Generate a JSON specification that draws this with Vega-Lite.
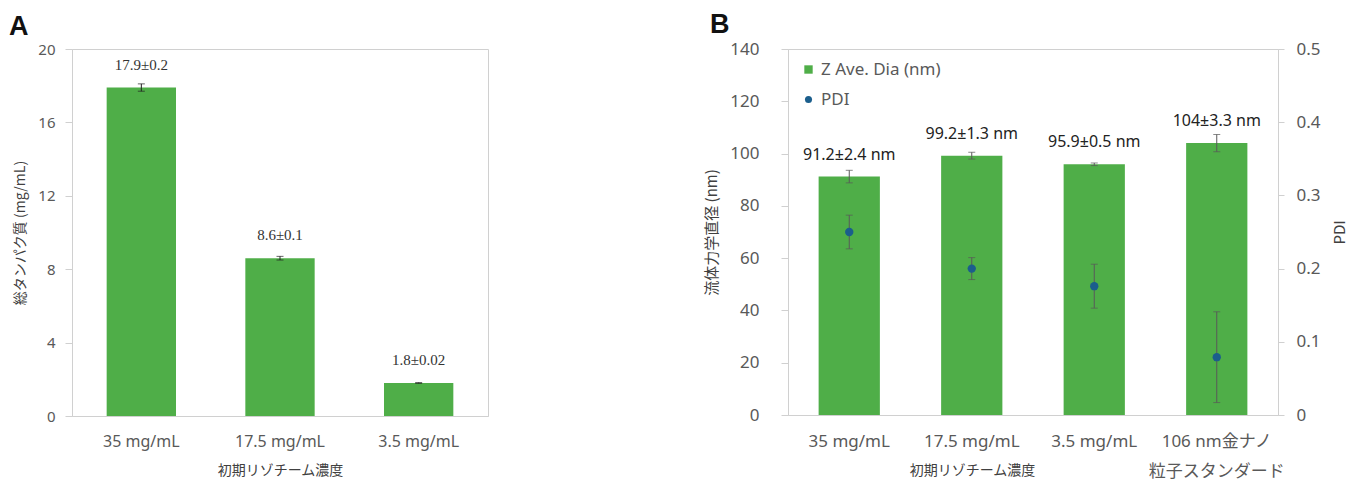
{
  "$schema": "https://vega.github.io/schema/vega-lite/v6.json",
  "padding": {"left": 8, "top": 10, "right": 0, "bottom": 0},
  "background": "white",
  "config": {
    "font": "Noto Sans, Noto Sans CJK JP",
    "view": {"stroke": "#d0d0d0", "strokeWidth": 1},
    "axis": {"grid": false, "domainColor": "#d0d0d0", "tickColor": "#d0d0d0", "labelColor": "#595959", "titleColor": "#404040", "titleFontWeight": "normal", "labelFont": "Noto Sans, Noto Sans CJK JP", "titleFont": "Noto Sans CJK JP"}
  },
  "spacing": 215,
  "resolve": {"scale": {"color": "independent"}, "legend": {"color": "independent"}},
  "hconcat": [
    {
      "width": 416,
      "height": 367,
      "title": {"text": "A", "anchor": "start", "frame": "group", "dx": -63, "fontSize": 27, "fontWeight": "bold", "font": "Liberation Sans", "color": "#111111", "offset": 1},
      "data": {"values": [
        {"conc": "35 mg/mL", "value": 17.9, "err": 0.2, "label": "17.9±0.2"},
        {"conc": "17.5 mg/mL", "value": 8.6, "err": 0.1, "label": "8.6±0.1"},
        {"conc": "3.5 mg/mL", "value": 1.8, "err": 0.02, "label": "1.8±0.02"}
      ]},
      "encoding": {
        "x": {"field": "conc", "type": "nominal", "sort": null, "scale": {"paddingInner": 0.5, "paddingOuter": 0.25},
          "axis": {"title": "初期リゾチーム濃度", "labelAngle": 0, "ticks": false, "labelFontSize": 16, "labelPadding": 17, "titleFontSize": 14, "titlePadding": 14}},
        "y": {"field": "value", "type": "quantitative", "title": "総タンパク質 (mg/mL)", "scale": {"domain": [0, 20]},
          "axis": {"values": [0, 4, 8, 12, 16, 20], "tickSize": 7, "labelPadding": 10, "labelFontSize": 15, "titleFontSize": 14, "titlePadding": 10}}
      },
      "layer": [
        {"mark": {"type": "bar", "color": "#4fae48"}},
        {"mark": {"type": "errorbar", "ticks": {"size": 7, "thickness": 1}, "color": "#222222", "thickness": 1},
         "encoding": {"yError": {"field": "err"}}},
        {"mark": {"type": "text", "dy": -23, "font": "Liberation Serif", "fontSize": 15, "color": "#333333", "baseline": "middle"},
         "encoding": {"text": {"field": "label"}}}
      ]
    },
    {
      "width": 490,
      "height": 366,
      "title": {"text": "B", "anchor": "start", "frame": "group", "dx": -78, "fontSize": 27, "fontWeight": "bold", "font": "Liberation Sans", "color": "#111111", "offset": 1},
      "data": {"values": [
        {"conc": "35 mg/mL", "z": 91.2, "zerr": 2.4, "zlabel": "91.2±2.4 nm", "pdi": 0.25, "pdierr": 0.023},
        {"conc": "17.5 mg/mL", "z": 99.2, "zerr": 1.3, "zlabel": "99.2±1.3 nm", "pdi": 0.2, "pdierr": 0.015},
        {"conc": "3.5 mg/mL", "z": 95.9, "zerr": 0.5, "zlabel": "95.9±0.5 nm", "pdi": 0.176, "pdierr": 0.03},
        {"conc": "106 nm金ナノ粒子スタンダード", "z": 104, "zerr": 3.3, "zlabel": "104±3.3 nm", "pdi": 0.079, "pdierr": 0.062}
      ]},
      "encoding": {
        "x": {"field": "conc", "type": "nominal", "sort": null, "scale": {"paddingInner": 0.5, "paddingOuter": 0.25},
          "axis": {"title": "初期リゾチーム濃度", "labelAngle": 0, "ticks": false, "labelFontSize": 17, "labelPadding": 18, "labelLineHeight": 30,
            "labelExpr": "datum.value == '106 nm金ナノ粒子スタンダード' ? ['106 nm金ナノ', '粒子スタンダード'] : datum.label",
            "titleFontSize": 14, "titleX": 184, "titleY": 59, "titleBaseline": "alphabetic"}}
      },
      "layer": [
        {
          "encoding": {
            "y": {"field": "z", "type": "quantitative", "title": "流体力学直径 (nm)", "scale": {"domain": [0, 140]},
              "axis": {"orient": "left", "values": [0, 20, 40, 60, 80, 100, 120, 140], "tickSize": 7, "labelPadding": 22, "labelFontSize": 17, "titleFontSize": 15, "titlePadding": 10}}
          },
          "layer": [
            {"mark": {"type": "bar", "color": "#4fae48"},
             "encoding": {
               "color": {"datum": "Z Ave. Dia (nm)", "type": "nominal",
                 "scale": {"domain": ["Z Ave. Dia (nm)", "PDI"], "range": ["#4fae48", "#1b5e8c"]},
                 "legend": {"title": null, "orient": "top-left", "offset": 12, "padding": 0, "labelFontSize": 17, "labelColor": "#595959", "rowPadding": 12, "labelOffset": 4, "symbolStrokeWidth": 0,
                   "encode": {"symbols": {"update": {
                     "shape": {"signal": "datum.label == 'PDI' ? 'circle' : 'square'"},
                     "size": {"signal": "datum.label == 'PDI' ? 50 : 70"}}}}}}
             }},
            {"mark": {"type": "errorbar", "ticks": {"size": 7, "thickness": 1}, "color": "#595959", "thickness": 1},
             "encoding": {"yError": {"field": "zerr"}}},
            {"mark": {"type": "text", "dy": -22, "fontSize": 16, "color": "#222222", "baseline": "middle"},
             "encoding": {"text": {"field": "zlabel"}}}
          ]
        },
        {
          "encoding": {
            "y": {"field": "pdi", "type": "quantitative", "title": "PDI", "scale": {"domain": [0, 0.5]},
              "axis": {"orient": "right", "values": [0, 0.1, 0.2, 0.3, 0.4, 0.5], "labelExpr": "datum.value == 0 ? '0' : format(datum.value, '.1f')", "tickSize": 6, "labelPadding": 12, "labelFontSize": 17, "titleFontSize": 15, "titlePadding": 27, "titleAngle": -90}}
          },
          "layer": [
            {"mark": {"type": "errorbar", "ticks": {"size": 7, "thickness": 1}, "color": "#595959", "thickness": 1},
             "encoding": {"yError": {"field": "pdierr"}}},
            {"mark": {"type": "point", "filled": true, "opacity": 1, "size": 70, "shape": "circle"},
             "encoding": {"color": {"datum": "PDI", "type": "nominal"}}}
          ]
        }
      ],
      "resolve": {"scale": {"y": "independent"}}
    }
  ]
}
